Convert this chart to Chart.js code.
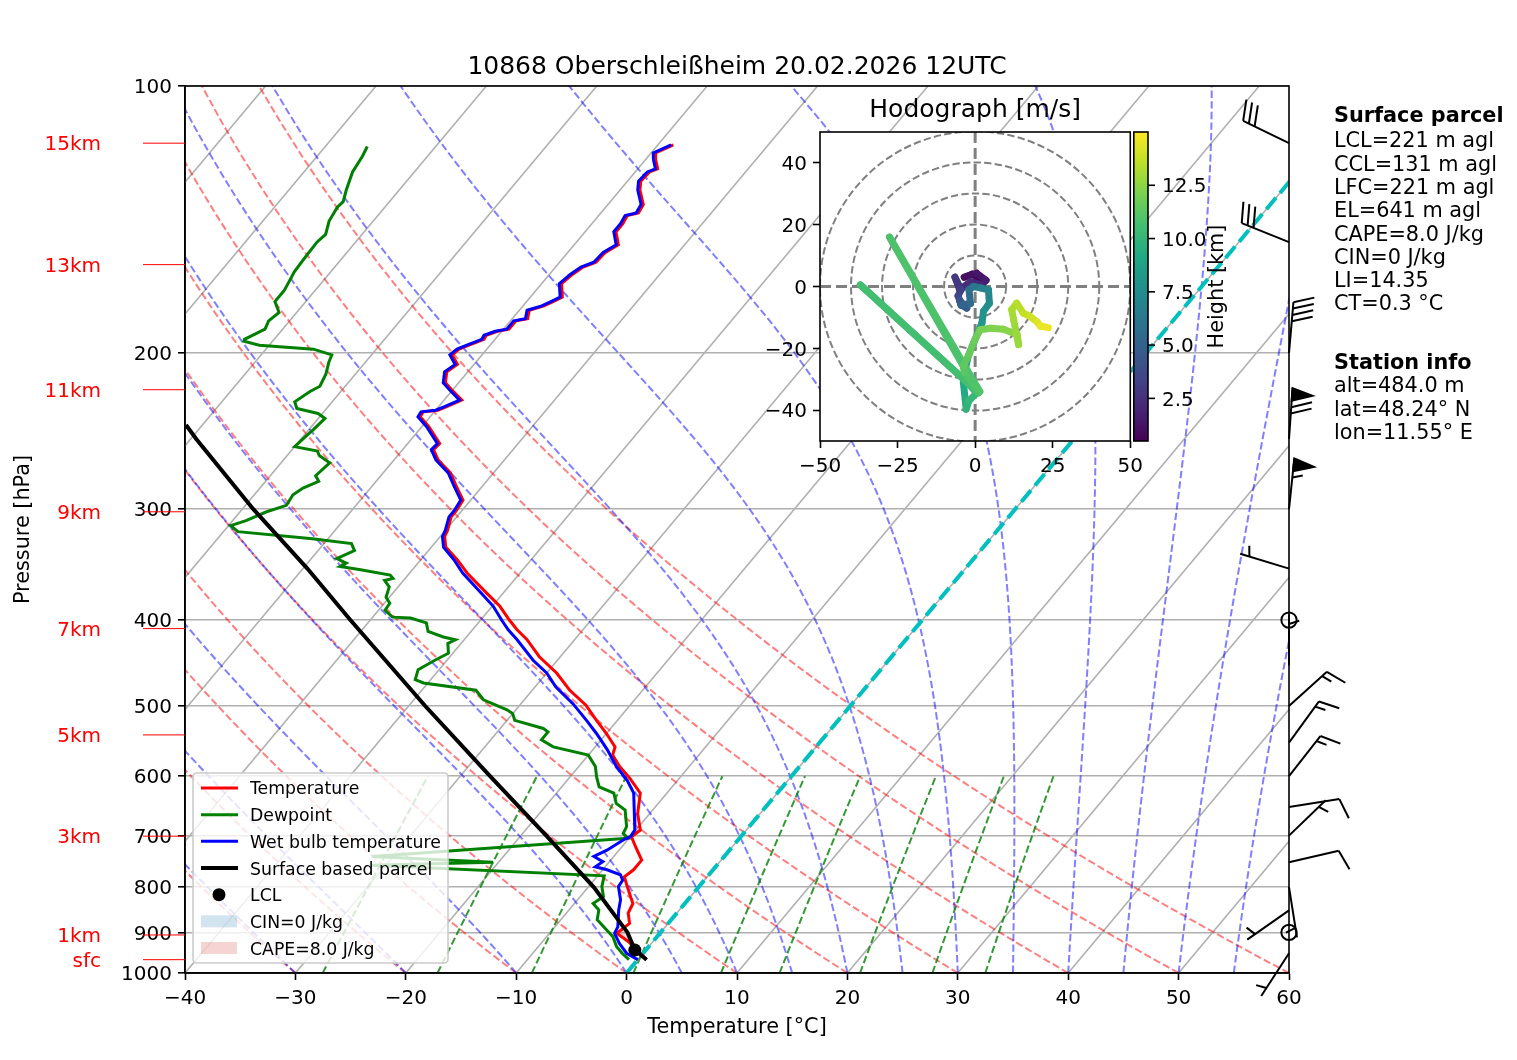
<!DOCTYPE html>
<html>
<head>
<meta charset="utf-8">
<title>Skew-T 10868</title>
<script src="https://cdn.jsdelivr.net/npm/chart.js@4.4.1/dist/chart.umd.min.js"></script>
<style>
  html, body { margin: 0; padding: 0; background: #ffffff; }
  #page { position: relative; width: 1517px; height: 1060px; }
  #page canvas { position: absolute; }
</style>
</head>
<body>
<div id="page">
  <canvas id="skewt" width="1517" height="1060" style="left:0;top:0"></canvas>
  <canvas id="hodo" width="410" height="420" style="left:740px;top:80px"></canvas>
  <canvas id="cbar" width="120" height="340" style="left:1133px;top:120px"></canvas>
</div>
<script>
const FONT = "'DejaVu Sans', sans-serif";
Chart.defaults.font.family = FONT;
Chart.defaults.font.size = 20;
Chart.defaults.color = '#000';

// ---------------- sounding (hPa / degC) ----------------
const tempP = [116.5,119,121,124,125,128,131,136,139,140,143,146,151,154,158,160,163,167,173,175,177,179,183,184,188,189,191,193,196,198,201,206,210,216,220,226,230,232,233,236,242,253,257,264,273,283,293,301,306,317,322,331,342,354,373,386,400,410,421,440,459,480,499,519,537,556,568,585,603,627,661,690,702,720,746,765,779,799,835,856,879,902,922,966];
const tempT = [-58.6,-59.6,-59.1,-58.2,-58.7,-58.8,-58.2,-56.8,-56.6,-57.4,-57.2,-57.2,-56.0,-56.6,-56.7,-57.5,-57.9,-58.2,-57.1,-57.6,-58.1,-59.1,-58.6,-59.5,-59.5,-60.4,-61.1,-61.0,-61.9,-62.5,-62.7,-61.5,-61.9,-61.2,-60.1,-58.4,-59.3,-59.8,-61.0,-60.9,-59.4,-57.1,-57.2,-56.0,-53.9,-52.3,-50.7,-50.5,-50.5,-49.8,-49.6,-48.7,-46.7,-44.8,-41.5,-39.3,-37.4,-36.0,-34.3,-31.9,-29.1,-26.6,-24.0,-21.9,-20.0,-18.2,-17.8,-16.3,-14.5,-12.4,-11.1,-9.6,-9.9,-8.8,-7.2,-7.2,-7.5,-6.5,-4.7,-4.4,-3.5,-3.9,-2.2,0.8];

const dewP = [117,120,125,131,135,137,142,147,150,157,162,165,170,175,180,184,188,193,194,196,198,201,205,211,218,221,227,231,234,237,244,249,255,258,261,266,275,279,284,289,297,302,309,313,318,324,328,334,341,345,348,351,356,359,361,367,377,383,390,397,398,403,412,418,421,425,436,444,455,467,471,480,492,505,510,519,530,535,546,556,568,585,601,617,627,644,655,684,696,705,739,750,756,777,799,820,835,849,871,894,910,934,950,966];
const dewT = [-86.2,-85.9,-85.6,-84.8,-84.2,-84.3,-84.0,-83.3,-83.5,-83.4,-83.3,-83.1,-82.8,-82.8,-81.6,-81.9,-81.6,-82.7,-82.6,-80.9,-75.7,-73.6,-73.3,-72.7,-72.3,-72.8,-73.4,-72.7,-70.4,-69.4,-69.6,-69.8,-70.0,-67.6,-67.1,-65.6,-65.9,-65.2,-66.1,-66.5,-66.3,-67.6,-68.8,-69.8,-68.7,-61.4,-57.5,-56.7,-57.7,-56.5,-56.8,-54.7,-51.6,-51.1,-51.7,-50.8,-50.3,-49.5,-49.4,-48.2,-46.5,-44.7,-43.9,-42.1,-40.8,-41.2,-40.4,-41.1,-41.9,-41.4,-40.4,-35.1,-33.7,-30.8,-30.0,-29.3,-26.1,-25.4,-25.4,-23.8,-20.0,-18.5,-17.6,-16.6,-14.8,-13.8,-12.5,-11.1,-10.9,-10.1,-31.9,-20.5,-31.3,-9.4,-8.8,-7.9,-8.3,-7.3,-6.7,-5.1,-4.0,-2.9,-1.9,-0.8];

const wetP = [116.5,119,121,124,125,128,131,136,139,140,143,146,151,154,158,160,163,167,173,175,177,179,183,184,188,189,191,193,196,198,201,206,210,216,220,226,230,232,233,236,242,253,257,264,273,283,293,301,306,317,322,331,342,354,373,386,400,
  410,421,444,459,476,497,519,537,560,585,606,627,661,690,702,708,727,739,749,759,765,775,786,799,827,849,887,902,926,950,966];
const wetT = [-58.8,-59.8,-59.3,-58.4,-58.9,-59.0,-58.4,-57.0,-56.8,-57.6,-57.4,-57.4,-56.2,-56.8,-56.9,-57.7,-58.1,-58.4,-57.3,-57.8,-58.3,-59.3,-58.8,-59.7,-59.7,-60.6,-61.3,-61.2,-62.1,-62.7,-62.9,-61.7,-62.1,-61.4,-60.3,-58.6,-59.5,-60.0,-61.2,-61.1,-59.6,-57.3,-57.4,-56.2,-54.1,-52.5,-50.9,-50.7,-50.7,-50.0,-49.8,-48.9,-47.0,-45.2,-42.0,-39.9,-38.1,
  -36.8,-35.2,-32.2,-30.0,-28.1,-25.3,-22.8,-20.9,-18.7,-16.6,-14.6,-13.0,-11.4,-10.1,-10.0,-10.4,-11.1,-11.8,-10.6,-10.9,-9.6,-8.0,-7.4,-7.3,-6.1,-5.5,-4.3,-4.1,-2.9,-1.5,0.0];

const parcelP = [966,942,900,800,700,600,500,400,350,300,250,241];
const parcelT = [0.8,-1.0,-3.0,-9.5,-17.7,-27.3,-38.5,-51.8,-59.6,-69.0,-79.5,-81.5];
const lclP = 942, lclT = -1.0;
const capeLevels = [942, 922, 902, 893];

// wind barbs (knots)
const windP = [116,150,200,250,300,350,400,450,500,550,600,650,700,750,800,850,900,950];
const windDir = [296,292,5,4,6,287,0,0,48,36,38,81,46,77,171,235,0,213];
const windKt = [30,30,40,70,55,5,0,5,15,15,15,10,5,10,5,5,0,5];

// height markers on the left
const kmLabels = ['15km','13km','11km','9km','7km','5km','3km','1km','sfc'];
const kmP = [116,159,220,302,409,539,701,906,966];

// hodograph (height km MSL, u/v m/s)
const hodoH = [0.5,0.7,0.9,1.1,1.4,1.7,2.0,2.3,2.6,2.9,3.2,3.5,3.9,4.3,4.7,5.1,5.5,5.9,6.3,6.7,7.1,7.5,7.8,8.1,8.4,8.7,9.0,9.3,9.6,9.9,10.1,10.3,10.5,10.6,10.7,10.8,10.9,11.0,11.2,11.4,11.6,11.8,12.0,12.2,12.4,12.6,12.8,13.0,13.2,13.4,13.7,14.0,14.3,14.6,15.0];
const hodoU = [1.0,1.5,-1.0,-3.5,0.5,3.5,2.0,-1.5,-5.0,-6.5,-4.5,-5.5,-4.5,-5.0,-2.7,-4.5,-1.5,-2.0,-0.5,2.0,4.3,4.6,2.7,2.2,-0.5,-2.2,-3.2,-3.8,-3.2,-2.9,-2.0,0.5,-2.6,-37.0,-2.6,1.1,-27.6,1.5,-3.5,-3.8,-2.0,0.0,1.6,5.0,9.1,13.5,14.0,12.4,11.8,13.4,15.5,17.7,20.0,21.0,23.6];
const hodoV = [1.5,2.5,4.0,3.0,4.3,2.0,0.5,1.5,-1.0,3.0,-1.0,-3.0,-6.0,-4.5,-7.0,-6.0,-5.5,-1.0,0.0,-0.5,-1.1,-5.4,-8.0,-11.8,-18.3,-22.5,-26.8,-31.1,-36.5,-39.7,-37.0,-34.5,-31.0,0.5,-31.0,-34.4,16.0,-34.0,-28.0,-25.8,-22.0,-17.0,-14.0,-13.5,-13.8,-15.5,-18.8,-10.7,-7.5,-5.4,-8.6,-9.7,-11.5,-12.8,-13.3];

// axes / ticks
const pressureTicks = [100,200,300,400,500,600,700,800,900,1000];
const tempTicks = [-40,-30,-20,-10,0,10,20,30,40,50,60];
const hodoXTicks = [-50,-25,0,25,50];
const hodoYTicks = [-40,-20,0,20,40];
const hodoRings = [10,20,30,40,50];
const cbarTicks = [2.5,5.0,7.5,10.0,12.5];

// background lines
const isothermT = [-110,-100,-90,-80,-70,-60,-50,-40,-30,-20,-10,0,10,20,30,40,50,60];
const dryT0 = [-40,-30,-20,-10,0,10,20,30,40,50,60];
const moistT0 = [-40,-30,-20,-10,0,5,10,15,20,25,30,35,40,45,50,55,60];
const mixRatios = [0.4,1,2,4,7,10,16,24,32]; // g/kg

const TITLE = '10868 Oberschleißheim 20.02.2026 12UTC';
const parcelInfo = ['LCL=221 m agl','CCL=131 m agl','LFC=221 m agl','EL=641 m agl','CAPE=8.0 J/kg','CIN=0 J/kg','LI=14.35','CT=0.3 °C'];
const stationInfo = ['alt=484.0 m','lat=48.24° N','lon=11.55° E'];

// ---------------- helpers ----------------
const SKEW = 67.3; // degC shift per decade of pressure
const TXT_DY = 2;  // canvas 'middle' sits a bit higher than matplotlib's centre
const LABEL_PX = 20.8, TITLE_PX = 25, LEGEND_PX = 17.3;
const skewX = (t, p) => t + SKEW * Math.log10(1000 / p);
const profile = (ps, ts) => ps.map((p, i) => ({ x: skewX(ts[i], p), y: p }));
const fmtMinus = v => v < 0 ? '\u2212' + Math.abs(v) : String(v);

const RD = 287.04749, CPD = 1004.6662, LV = 2.50084e6, EPS = 0.6219569, KAPPA = RD / CPD;
function satMixing(p, tk) {
  const tc = tk - 273.15;
  const es = 6.112 * Math.exp(17.67 * tc / (tc + 243.5));
  return EPS * es / Math.max(p - es, 1);
}
function moistSlope(p, tk) {
  const rs = satMixing(p, tk);
  return (RD * tk + LV * rs) / (CPD + LV * LV * rs * EPS / (RD * tk * tk)) / p;
}
function moistAdiabat(t0) {
  let p = 1000, tk = t0 + 273.15;
  const pts = [{ x: skewX(t0, p), y: p }];
  const h = -5;
  while (p > 100.001) {
    const k1 = moistSlope(p, tk);
    const k2 = moistSlope(p + h / 2, tk + h / 2 * k1);
    const k3 = moistSlope(p + h / 2, tk + h / 2 * k2);
    const k4 = moistSlope(p + h, tk + h * k3);
    tk += h / 6 * (k1 + 2 * k2 + 2 * k3 + k4);
    p += h;
    pts.push({ x: skewX(tk - 273.15, p), y: p });
  }
  return pts;
}
function dryAdiabat(t0) {
  const pts = [];
  for (let p = 1000; p >= 100; p -= 10) {
    pts.push({ x: skewX((t0 + 273.15) * Math.pow(p / 1000, KAPPA) - 273.15, p), y: p });
  }
  return pts;
}
function mixingLine(wg) {
  const w = wg / 1000, pts = [];
  for (let p = 1000; p >= 600; p -= 20) {
    const l = Math.log(p * w / (EPS + w) / 6.112);
    pts.push({ x: skewX(243.5 * l / (17.67 - l), p), y: p });
  }
  return pts;
}
function interpLogP(ps, ts, p) {
  for (let i = 0; i < ps.length - 1; i++) {
    const a = Math.min(ps[i], ps[i + 1]), b = Math.max(ps[i], ps[i + 1]);
    if (p >= a && p <= b) {
      const f = Math.log(p / ps[i]) / Math.log(ps[i + 1] / ps[i]);
      return ts[i] + f * (ts[i + 1] - ts[i]);
    }
  }
  return ts[ts.length - 1];
}

const VIRIDIS = [[68,1,84],[72,36,117],[65,68,135],[53,95,141],[42,120,142],[33,145,140],[34,168,132],[68,191,112],[122,209,81],[189,223,38],[253,231,37]];
function viridis(t) {
  t = Math.min(1, Math.max(0, t)) * (VIRIDIS.length - 1);
  const i = Math.min(VIRIDIS.length - 2, Math.floor(t)), f = t - i;
  const c = VIRIDIS[i].map((v, k) => Math.round(v + f * (VIRIDIS[i + 1][k] - v)));
  return `rgb(${c[0]},${c[1]},${c[2]})`;
}
const H_MIN = Math.min(...hodoH), H_MAX = Math.max(...hodoH);

const lineDs = (data, color, width, dash, order) => ({
  data, showLine: true, borderColor: color, borderWidth: width, borderDash: dash || [],
  pointRadius: 0, fill: false, order
});

// ---------------- main skew-T ----------------
const datasets = [];
isothermT.forEach(t => datasets.push(lineDs([{ x: skewX(t, 1000), y: 1000 }, { x: skewX(t, 100), y: 100 }], '#b0b0b0', 1.6, null, 30)));
dryT0.forEach(t => datasets.push(lineDs(dryAdiabat(t), 'rgba(255,0,0,0.5)', 2, [7.4, 3.2], 25)));
moistT0.forEach(t => datasets.push(lineDs(moistAdiabat(t), 'rgba(0,0,255,0.5)', 2, [7.4, 3.2], 24)));
mixRatios.forEach(w => datasets.push(lineDs(mixingLine(w), 'rgba(0,128,0,0.8)', 2, [7.4, 3.2], 23)));
datasets.push(lineDs([{ x: skewX(0, 1000), y: 1000 }, { x: skewX(0, 100), y: 100 }], '#00bfbf', 4, [14.8, 6.4], 20));

const capeShape = capeLevels.map(p => ({ x: skewX(interpLogP(parcelP, parcelT, p), p), y: p }))
  .concat(capeLevels.slice().reverse().map(p => ({ x: skewX(interpLogP(tempP, tempT, p), p), y: p })));
datasets.push({ data: capeShape, showLine: true, borderWidth: 0, pointRadius: 0,
  fill: 'shape', backgroundColor: 'rgba(214,39,40,0.2)', order: 12 });

datasets.push(lineDs(profile(dewP, dewT), 'green', 3, null, 5));
datasets.push(lineDs(profile(tempP, tempT), 'red', 3, null, 4));
datasets.push(lineDs(profile(wetP, wetT), 'blue', 3, null, 3));
datasets.push(lineDs(profile(parcelP, parcelT), 'black', 4, null, 2));
datasets.push({ data: [{ x: skewX(lclT, lclP), y: lclP }], showLine: false, pointRadius: 6.5,
  pointBackgroundColor: '#000', pointBorderWidth: 0, order: 1 });

function drawBarb(ctx, x0, y0, dir, kt) {
  const L = 51, H = 0.4 * L, W = 0.25 * L, S = 0.125 * L;
  ctx.save();
  ctx.strokeStyle = '#000'; ctx.fillStyle = '#000'; ctx.lineWidth = 2; ctx.setLineDash([]);
  let r = Math.round(kt / 5) * 5;
  if (r === 0) {
    ctx.beginPath(); ctx.arc(x0, y0, 0.15 * L, 0, 2 * Math.PI); ctx.stroke(); ctx.restore(); return;
  }
  const a = dir * Math.PI / 180;
  const sx = Math.sin(a), sy = -Math.cos(a);
  const nx = -sy, ny = sx;
  ctx.beginPath(); ctx.moveTo(x0, y0); ctx.lineTo(x0 + sx * L, y0 + sy * L); ctx.stroke();
  const flags = Math.floor(r / 50); r -= flags * 50;
  const barbs = Math.floor(r / 10); r -= barbs * 10;
  const half = r >= 5;
  const at = d => [x0 + sx * (L - d), y0 + sy * (L - d)];
  let off = 0;
  for (let i = 0; i < flags; i++) {
    const [px, py] = at(off), [qx, qy] = at(off + W);
    ctx.beginPath(); ctx.moveTo(px, py);
    ctx.lineTo(px + nx * H - sx * W / 2, py + ny * H - sy * W / 2);
    ctx.lineTo(qx, qy); ctx.closePath(); ctx.fill(); ctx.stroke();
    off += W + S;
  }
  for (let i = 0; i < barbs; i++) {
    const [px, py] = at(off);
    ctx.beginPath(); ctx.moveTo(px, py);
    ctx.lineTo(px + nx * H + sx * W / 2, py + ny * H + sy * W / 2); ctx.stroke();
    off += S;
  }
  if (half) {
    if (off === 0) off = 1.5 * S;
    const [px, py] = at(off);
    ctx.beginPath(); ctx.moveTo(px, py);
    ctx.lineTo(px + nx * H / 2 + sx * W / 4, py + ny * H / 2 + sy * W / 4); ctx.stroke();
  }
  ctx.restore();
}

function drawLegend(ctx) {
  const x = 193, y = 773, w = 255, h = 190, r = 4;
  ctx.save();
  ctx.beginPath();
  ctx.moveTo(x + r, y); ctx.lineTo(x + w - r, y); ctx.quadraticCurveTo(x + w, y, x + w, y + r);
  ctx.lineTo(x + w, y + h - r); ctx.quadraticCurveTo(x + w, y + h, x + w - r, y + h);
  ctx.lineTo(x + r, y + h); ctx.quadraticCurveTo(x, y + h, x, y + h - r);
  ctx.lineTo(x, y + r); ctx.quadraticCurveTo(x, y, x + r, y); ctx.closePath();
  ctx.fillStyle = 'rgba(255,255,255,0.8)'; ctx.fill();
  ctx.strokeStyle = '#cccccc'; ctx.lineWidth = 1.6; ctx.stroke();
  const items = [
    { kind: 'line', color: 'red', lw: 3, label: 'Temperature' },
    { kind: 'line', color: 'green', lw: 3, label: 'Dewpoint' },
    { kind: 'line', color: 'blue', lw: 3, label: 'Wet bulb temperature' },
    { kind: 'line', color: 'black', lw: 4, label: 'Surface based parcel' },
    { kind: 'dot', color: 'black', label: 'LCL' },
    { kind: 'patch', color: 'rgba(31,119,180,0.2)', label: 'CIN=0 J/kg' },
    { kind: 'patch', color: 'rgba(214,39,40,0.2)', label: 'CAPE=8.0 J/kg' }
  ];
  ctx.font = `${LEGEND_PX}px ${FONT}`; ctx.textAlign = 'left'; ctx.textBaseline = 'middle';
  items.forEach((it, i) => {
    const cy = 788 + i * 26.67;
    if (it.kind === 'line') {
      ctx.strokeStyle = it.color; ctx.lineWidth = it.lw;
      ctx.beginPath(); ctx.moveTo(201, cy); ctx.lineTo(238, cy); ctx.stroke();
    } else if (it.kind === 'dot') {
      ctx.fillStyle = it.color; ctx.beginPath(); ctx.arc(219, cy, 6.5, 0, 2 * Math.PI); ctx.fill();
    } else {
      ctx.fillStyle = it.color; ctx.fillRect(201, cy - 6, 36, 12);
    }
    ctx.fillStyle = '#000'; ctx.fillText(it.label, 250, cy + 2);
  });
  ctx.restore();
}

const skewDecor = {
  id: 'skewDecor',
  afterDraw(chart) {
    const { ctx, chartArea: a, scales: { y } } = chart;
    ctx.save();
    drawLegend(ctx);
    ctx.strokeStyle = '#000'; ctx.lineWidth = 1.6;
    ctx.strokeRect(a.left, a.top, a.right - a.left, a.bottom - a.top);
    ctx.fillStyle = '#000'; ctx.textBaseline = 'middle';
    ctx.font = `${TITLE_PX}px ${FONT}`; ctx.textAlign = 'center';
    ctx.fillText(TITLE, (a.left + a.right) / 2, 65 + TXT_DY);
    ctx.font = `${LABEL_PX}px ${FONT}`;
    ctx.fillText('Temperature [°C]', (a.left + a.right) / 2, 1026 + TXT_DY);
    ctx.save(); ctx.translate(22 + TXT_DY, (a.top + a.bottom) / 2); ctx.rotate(-Math.PI / 2);
    ctx.fillText('Pressure [hPa]', 0, 0); ctx.restore();
    // height markers
    ctx.strokeStyle = 'red'; ctx.fillStyle = 'red'; ctx.lineWidth = 1; ctx.textAlign = 'right';
    ctx.font = `20px ${FONT}`;
    kmLabels.forEach((s, i) => {
      const py = y.getPixelForValue(kmP[i]);
      ctx.beginPath(); ctx.moveTo(a.left - 42, py); ctx.lineTo(a.left, py); ctx.stroke();
      ctx.fillText(s, 101, py + TXT_DY);
    });
    // wind barbs on the right edge
    windP.forEach((p, i) => drawBarb(ctx, a.right, y.getPixelForValue(p), windDir[i], windKt[i]));
    // parcel and station text
    const tx = a.right + 45;
    ctx.fillStyle = '#000'; ctx.textAlign = 'left';
    ctx.font = `bold ${LABEL_PX}px ${FONT}`; ctx.fillText('Surface parcel', tx, 115 + TXT_DY);
    ctx.font = `${LABEL_PX}px ${FONT}`;
    parcelInfo.forEach((s, i) => ctx.fillText(s, tx, 140 + i * 23.3 + TXT_DY));
    ctx.font = `bold ${LABEL_PX}px ${FONT}`; ctx.fillText('Station info', tx, 361.7 + TXT_DY);
    ctx.font = `${LABEL_PX}px ${FONT}`;
    stationInfo.forEach((s, i) => ctx.fillText(s, tx, 385 + i * 23.3 + TXT_DY));
    ctx.restore();
  }
};

new Chart(document.getElementById('skewt'), {
  type: 'scatter',
  data: { datasets },
  options: {
    responsive: false, animation: false, events: [], devicePixelRatio: 1,
    layout: { padding: { left: 0, right: 228, top: 86, bottom: 0 } },
    plugins: { legend: { display: false }, tooltip: { enabled: false } },
    elements: { point: { radius: 0 }, line: { tension: 0 } },
    scales: {
      x: {
        type: 'linear', min: -40, max: 60,
        afterBuildTicks: s => { s.ticks = tempTicks.map(v => ({ value: v })); },
        afterFit: s => { s.height = 87; },
        ticks: { autoSkip: false, maxRotation: 0, padding: 7, callback: v => fmtMinus(v) },
        grid: { drawOnChartArea: false, tickLength: 7, tickColor: '#000', tickWidth: 1.6 },
        border: { display: true, color: '#000', width: 1.6 }
      },
      y: {
        type: 'logarithmic', min: 100, max: 1000, reverse: true,
        afterBuildTicks: s => { s.ticks = pressureTicks.map(v => ({ value: v })); },
        afterFit: s => { s.width = 185; },
        ticks: { autoSkip: false, padding: 6, labelOffset: TXT_DY, callback: v => String(v) },
        grid: { color: '#b0b0b0', lineWidth: 1.6, tickLength: 7, tickColor: '#000', tickWidth: 1.6 },
        border: { display: true, color: '#000', width: 1.6 }
      }
    }
  },
  plugins: [skewDecor]
});

// ---------------- hodograph ----------------
const hodoDecor = {
  id: 'hodoDecor',
  beforeDatasetsDraw(chart) {
    const { ctx, chartArea: a, scales: { x, y } } = chart;
    ctx.save();
    ctx.fillStyle = '#fff'; ctx.fillRect(a.left, a.top, a.right - a.left, a.bottom - a.top);
    ctx.beginPath(); ctx.rect(a.left, a.top, a.right - a.left, a.bottom - a.top); ctx.clip();
    const cx = x.getPixelForValue(0), cy = y.getPixelForValue(0);
    ctx.strokeStyle = '#808080'; ctx.lineWidth = 2; ctx.setLineDash([7.4, 3.2]);
    hodoRings.forEach(r => {
      ctx.beginPath(); ctx.arc(cx, cy, x.getPixelForValue(r) - cx, 0, 2 * Math.PI); ctx.stroke();
    });
    ctx.lineWidth = 3; ctx.setLineDash([11, 5]);
    ctx.beginPath(); ctx.moveTo(a.left, cy); ctx.lineTo(a.right, cy);
    ctx.moveTo(cx, a.top); ctx.lineTo(cx, a.bottom); ctx.stroke();
    ctx.restore();
  },
  afterDraw(chart) {
    const { ctx, chartArea: a } = chart;
    ctx.save();
    ctx.strokeStyle = '#000'; ctx.lineWidth = 1.6;
    ctx.strokeRect(a.left, a.top, a.right - a.left, a.bottom - a.top);
    ctx.fillStyle = '#000'; ctx.font = `${TITLE_PX}px ${FONT}`; ctx.textAlign = 'center'; ctx.textBaseline = 'middle';
    ctx.fillText('Hodograph [m/s]', (a.left + a.right) / 2, a.top - 24 + TXT_DY);
    ctx.restore();
  }
};

new Chart(document.getElementById('hodo'), {
  type: 'scatter',
  data: {
    datasets: [{
      data: hodoU.map((u, i) => ({ x: u, y: hodoV[i] })),
      showLine: true, borderWidth: 7, pointRadius: 0, borderJoinStyle: 'round', borderCapStyle: 'round',
      borderColor: viridis(0.5),
      segment: { borderColor: c => viridis((hodoH[c.p0DataIndex] - H_MIN) / (H_MAX - H_MIN)) }
    }]
  },
  options: {
    responsive: false, animation: false, events: [], devicePixelRatio: 1,
    layout: { padding: { left: 0, right: 10, top: 52, bottom: 0 } },
    plugins: { legend: { display: false }, tooltip: { enabled: false } },
    scales: {
      x: {
        type: 'linear', min: -50, max: 50,
        afterBuildTicks: s => { s.ticks = hodoXTicks.map(v => ({ value: v })); },
        afterFit: s => { s.height = 59; },
        ticks: { autoSkip: false, maxRotation: 0, padding: 7, callback: v => fmtMinus(v) },
        grid: { drawOnChartArea: false, tickLength: 7, tickColor: '#000', tickWidth: 1.6 },
        border: { display: false }
      },
      y: {
        type: 'linear', min: -50, max: 50,
        afterBuildTicks: s => { s.ticks = hodoYTicks.map(v => ({ value: v })); },
        afterFit: s => { s.width = 80; },
        ticks: { autoSkip: false, padding: 6, labelOffset: TXT_DY, callback: v => fmtMinus(v) },
        grid: { drawOnChartArea: false, tickLength: 7, tickColor: '#000', tickWidth: 1.6 },
        border: { display: false }
      }
    }
  },
  plugins: [hodoDecor]
});

// ---------------- colorbar ----------------
const cbarDecor = {
  id: 'cbarDecor',
  beforeDatasetsDraw(chart) {
    const { ctx, chartArea: a, scales: { y } } = chart;
    ctx.save();
    for (let py = Math.floor(a.top); py < a.bottom; py++) {
      ctx.fillStyle = viridis((y.getValueForPixel(py + 0.5) - H_MIN) / (H_MAX - H_MIN));
      ctx.fillRect(a.left, py, a.right - a.left, 1);
    }
    ctx.strokeStyle = '#000'; ctx.lineWidth = 1.6;
    ctx.strokeRect(a.left + 0.8, a.top, a.right - a.left - 0.8, a.bottom - a.top);
    ctx.fillStyle = '#000'; ctx.font = `20px ${FONT}`; ctx.textAlign = 'left'; ctx.textBaseline = 'middle';
    cbarTicks.forEach(v => {
      const py = y.getPixelForValue(v);
      ctx.beginPath(); ctx.moveTo(a.right, py); ctx.lineTo(a.right + 7, py); ctx.stroke();
      ctx.fillText(v.toFixed(1), a.right + 14, py + TXT_DY);
    });
    ctx.textAlign = 'center'; ctx.font = `${LABEL_PX}px ${FONT}`;
    ctx.translate(83 + TXT_DY, (a.top + a.bottom) / 2); ctx.rotate(-Math.PI / 2);
    ctx.fillText('Height [km]', 0, 0);
    ctx.restore();
  }
};

new Chart(document.getElementById('cbar'), {
  type: 'scatter',
  data: { datasets: [] },
  options: {
    responsive: false, animation: false, events: [], devicePixelRatio: 1,
    layout: { padding: { left: 0, right: 105, top: 12, bottom: 19 } },
    plugins: { legend: { display: false }, tooltip: { enabled: false } },
    scales: {
      x: { display: false, min: 0, max: 1 },
      y: { display: false, type: 'linear', min: H_MIN, max: H_MAX }
    }
  },
  plugins: [cbarDecor]
});
</script>
</body>
</html>
